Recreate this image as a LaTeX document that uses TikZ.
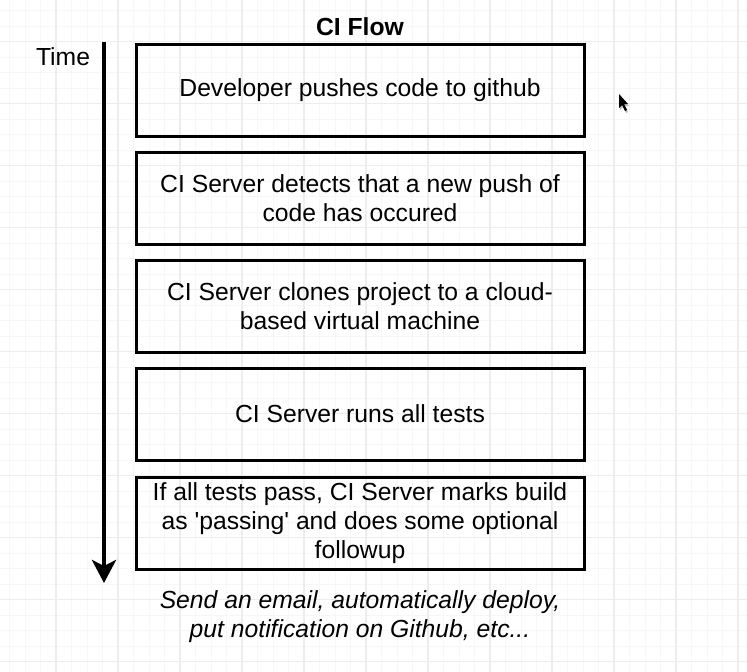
\documentclass[tikz,border=0pt]{standalone}
\usepackage{fontspec}
\setmainfont{Liberation Sans}
\usetikzlibrary{arrows.meta,positioning}

\begin{document}
\begin{tikzpicture}[x=1pt,y=-1pt,
	stepbox/.style={draw,line width=3pt,minimum width=448pt,minimum height=92pt,inner sep=0pt,align=center,font=\fontsize{24.7}{29}\selectfont},
	minorline/.style={black!3,line width=1pt},
	majorline/.style={black!7,line width=1.2pt}]
	\useasboundingbox (0,0) rectangle (747,672);
	\foreach \i in {0,...,49} \draw[minorline] (-6+15.5*\i,0)--(-6+15.5*\i,672);
	\foreach \i in {0,...,44} \draw[minorline] (0,-4.8+15.5*\i)--(747,-4.8+15.5*\i);
	\foreach \i in {0,...,12} \draw[majorline] (-6+62*\i,0)--(-6+62*\i,672);
	\foreach \i in {0,...,11} \draw[majorline] (0,-20.3+62*\i)--(747,-20.3+62*\i);
	\node at (360,26.5)[font=\bfseries\fontsize{24.7}{29}\selectfont] (title) {CI Flow};
	\node at (63,57)[font=\fontsize{24.7}{29}\selectfont] (time) {Time};
	\node at (360,90)[stepbox] (push) {Developer pushes code to github};
	\node at (360,198)[stepbox] (detect) {CI Server detects that a new push of\\code has occured};
	\node at (360,306)[stepbox] (clone) {CI Server clones project to a cloud-\\based virtual machine};
	\node at (360,414)[stepbox] (tests) {CI Server runs all tests};
	\node at (360,523)[stepbox] (pass) {If all tests pass, CI Server marks build\\as \textquotesingle passing\textquotesingle{} and does some optional\\followup};
	\node at (360,617)[align=center,font=\itshape\fontsize{24.7}{29}\selectfont] (followup) {Send an email, automatically deploy,\\put notification on Github, etc...};
	\coordinate (tstart) at (104,42);
	\coordinate (tend) at (104,583);
	\draw[line width=4pt,-{Stealth[length=23pt,width=24pt,inset=6pt]}] (tstart)--(tend);
	\fill[black!25] (620,96)--(620,110)--(623,107)--(626,113)--(628,112)--(625,106)--(629,106)--cycle;
	\fill[black] (619,94)--(619,108)--(622,105)--(625,111)--(627,110)--(624,104)--(628,104)--cycle;
\end{tikzpicture}
\end{document}
